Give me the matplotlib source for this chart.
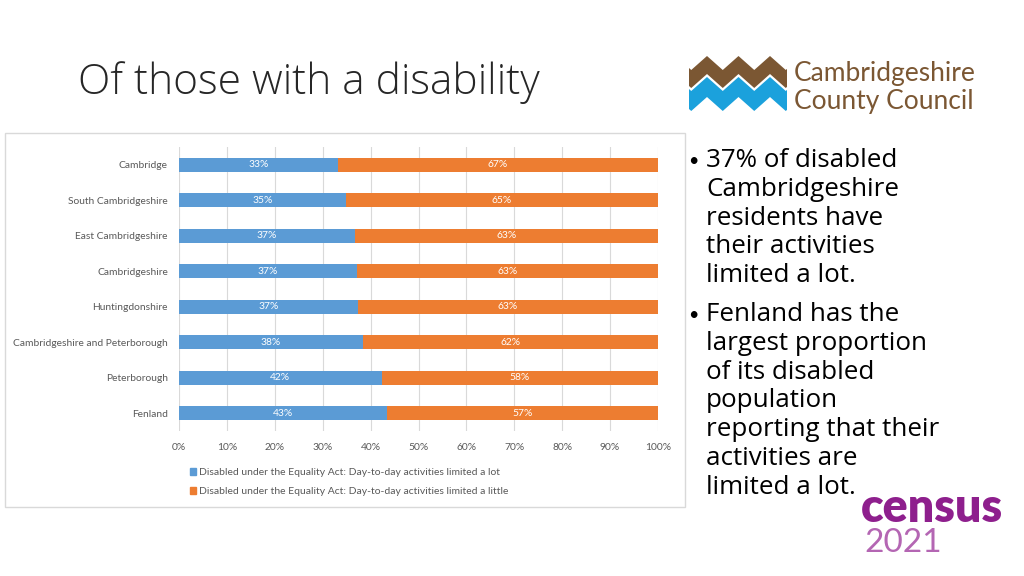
import matplotlib
matplotlib.use("Agg")
import matplotlib.pyplot as plt
from matplotlib.patches import Rectangle, Polygon, Patch
import numpy as np

plt.rcParams["font.family"] = ["Lato", "DejaVu Sans"]

# -- data ---------------------------------------------------------------
areas = ["Cambridge", "South Cambridgeshire", "East Cambridgeshire",
         "Cambridgeshire", "Huntingdonshire", "Cambridgeshire and Peterborough",
         "Peterborough", "Fenland"]
limited_lot = [33.2, 34.9, 36.8, 37.1, 37.3, 38.4, 42.3, 43.4]
limited_little = [66.8, 65.1, 63.2, 62.9, 62.7, 61.6, 57.7, 56.6]
series_names = ["Disabled under the Equality Act: Day-to-day activities limited a lot",
                "Disabled under the Equality Act: Day-to-day activities limited a little"]
x_ticks = [0, 10, 20, 30, 40, 50, 60, 70, 80, 90, 100]

bullets = [
    ["37% of disabled", "Cambridgeshire", "residents have",
     "their activities", "limited a lot."],
    ["Fenland has the", "largest proportion", "of its disabled",
     "population", "reporting that their", "activities are",
     "limited a lot."],
]

C_BLUE = "#5b9bd5"
C_ORANGE = "#ed7d31"
GRID = "#d9d9d9"
INK2 = "#595959"
BROWN = "#7b5733"
LOGO_BLUE = "#1ba1dc"

W, H = 1024, 576


def fx(px):
    return px / W


def fy(py):
    return 1 - py / H


fig = plt.figure(figsize=(10.24, 5.76), dpi=100, facecolor="white")

# title
fig.text(fx(78), fy(94), "Of those with a disability", fontsize=30.5,
         family="Open Sans", fontweight="light", color="#262626",
         ha="left", va="baseline")

# chart frame
fig.patches.append(Rectangle((fx(5), fy(507)), fx(680), 374 / H,
                             transform=fig.transFigure, fill=False,
                             edgecolor=GRID, lw=1.0))

# -- bar chart ---------------------------------------------------------
ax = fig.add_axes([fx(179), fy(431), fx(479), 284 / H])
y = np.arange(len(areas))
b1 = ax.barh(y, limited_lot, height=0.4, color=C_BLUE, label=series_names[0])
b2 = ax.barh(y, limited_little, left=limited_lot, height=0.4,
             color=C_ORANGE, label=series_names[1])
for bars, vals in ((b1, limited_lot), (b2, limited_little)):
    ax.bar_label(bars, labels=[f"{round(v):.0f}%" for v in vals],
                 label_type="center", color="white", fontsize=7.4)

ax.set_xlim(0, 100)
ax.set_ylim(len(areas) - 0.5, -0.5)
ax.set_yticks(y)
ax.set_yticklabels(areas)
ax.set_xticks(x_ticks)
ax.set_xticklabels([f"{t}%" for t in x_ticks])
ax.tick_params(length=0, labelsize=7.4, colors=INK2)
ax.tick_params(axis="x", pad=9)
ax.tick_params(axis="y", pad=8)
for s in ax.spines.values():
    s.set_visible(False)
ax.grid(axis="x", color=GRID, lw=0.8)
ax.set_axisbelow(True)

fig.legend(handles=[Patch(color=C_BLUE, label=series_names[0]),
                    Patch(color=C_ORANGE, label=series_names[1])],
           loc="upper left", bbox_to_anchor=(fx(190), fy(468)),
           frameon=False, fontsize=7.5, labelcolor=INK2,
           handlelength=0.6, handleheight=0.6, handletextpad=0.3,
           labelspacing=1.0, borderpad=0, borderaxespad=0)

# -- bullets -----------------------------------------------------------
line_h = 28.8
yy = 167
for block in bullets:
    for i, line in enumerate(block):
        if i == 0:
            fig.text(fx(688), fy(yy - 1), "•", fontsize=13, color="black",
                     va="baseline", ha="left")
        fig.text(fx(706), fy(yy), line, fontsize=18.7, family="Open Sans",
                 color="black", va="baseline", ha="left")
        yy += line_h
    yy += 10

# -- council logo ------------------------------------------------------
xs = np.linspace(689, 787, 400)
period = 31.5
phase = (xs - 707) / period
tri = 1 - 4 * np.abs(phase - np.round(phase))  # 1 at peaks, -1 at valleys
top_brown = 63 - 7 * tri
bot_brown = top_brown + 18
top_blue = bot_brown + 3
bot_blue = top_blue + 20
for top, bot, col in ((top_brown, bot_brown, BROWN), (top_blue, bot_blue, LOGO_BLUE)):
    pts = [(fx(a), fy(b)) for a, b in zip(xs, top)] + \
          [(fx(a), fy(b)) for a, b in zip(xs[::-1], bot[::-1])]
    fig.patches.append(Polygon(pts, closed=True, transform=fig.transFigure,
                               facecolor=col, edgecolor="none"))
fig.text(fx(794), fy(81), "Cambridgeshire", fontsize=19, color=BROWN,
         va="baseline", ha="left")
fig.text(fx(794), fy(109), "County Council", fontsize=19, color=BROWN,
         va="baseline", ha="left")

# -- census logo -------------------------------------------------------
fig.text(fx(861), fy(522), "census", fontsize=33.5, fontweight="heavy",
         color="#8e1f8d", va="baseline", ha="left")
fig.text(fx(864), fy(552), "2021", fontsize=24, color="#b466b3",
         va="baseline", ha="left")

fig.savefig("out.png", dpi=100, facecolor="white")
